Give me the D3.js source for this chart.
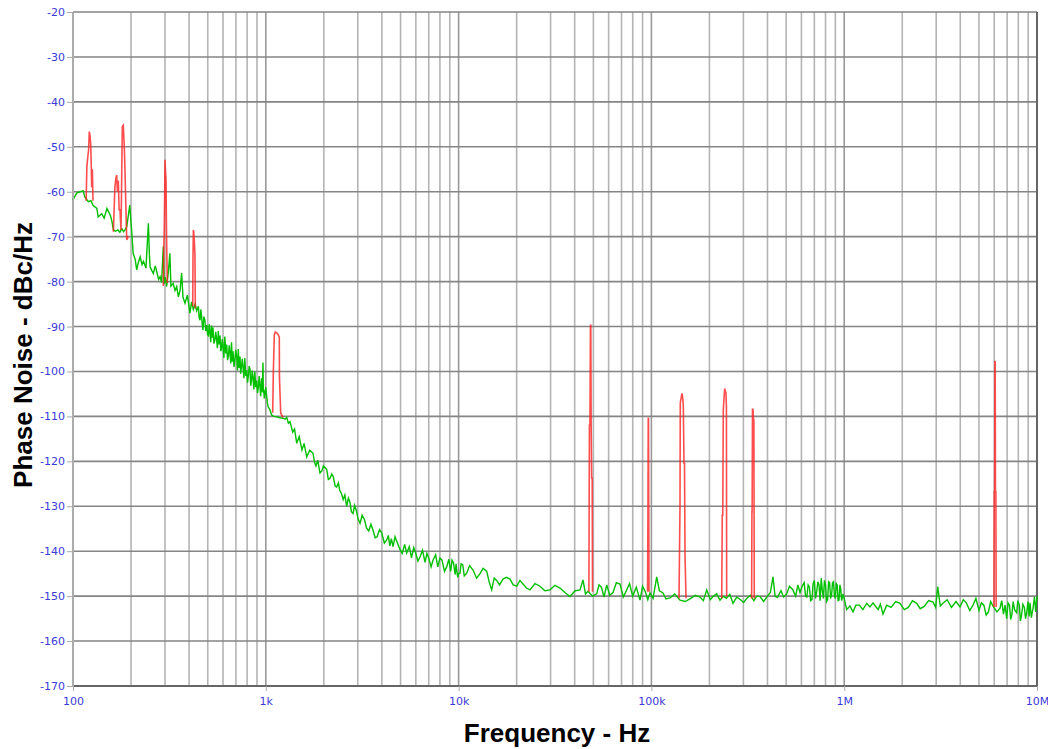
<!DOCTYPE html>
<html>
<head>
<meta charset="utf-8">
<script src="https://cdn.jsdelivr.net/npm/d3@7"></script>
<style>
  body { margin: 0; background: #fff; }
  .tick text { font-family: "DejaVu Sans", Verdana, sans-serif; font-size: 11px; fill: #3a3ad8; }
  .tick line { stroke: #aaa; }
  .title { font-family: "Liberation Sans", Arial, sans-serif; font-weight: bold; fill: #000; }
</style>
</head>
<body>
<div id="chart"></div>
<script>
//Width and height
var w = 1048;
var h = 749;
var margin = {left: 73, right: 11, top: 12, bottom: 63};

//Axis values
var xDecades = [100, 1e3, 1e4, 1e5, 1e6, 1e7];
var xLabels = ["100", "1k", "10k", "100k", "1M", "10M"];
var yTicks = [-20, -30, -40, -50, -60, -70, -80, -90, -100, -110, -120, -130, -140, -150, -160, -170];

//Measured noise floor (green), [Hz, dBc/Hz]
var noise = [
  [100,-61.8],[104.5,-60.3],[108.7,-60.0],[113,-59.8],[115,-61.1],[120,-62.2],[124,-62.0],[127,-63.0],
  [133,-63.7],[135,-65.6],[141,-64.9],[145,-65.9],[150,-63.7],[156,-65.2],[159,-66.5],[162,-68.5],
  [166,-68.8],[171,-68.5],[175,-69.0],[179,-68.2],[183,-68.9],[186,-68.5],[190,-67.8],[197,-63.0],
  [202,-69.3],[205,-73.7],[210,-75.0],[214,-77.4],[218,-75.8],[223,-74.5],[228,-76.2],[232,-75.5],
  [239,-77.0],[246,-67.0],[249,-74.0],[251,-76.7],[256,-77.5],[261,-78.2],[267,-76.5],[272,-77.8],
  [278,-79.5],[283,-78.9],[288,-80.2],[294,-72.2],[297,-80.5],[301,-79.0],[306,-81.1],[312,-78.0],
  [318,-73.7],[322,-81.0],[331,-80.4],[338,-82.0],[345,-81.1],[352,-83.4],[359,-82.0],[366,-78.1],
  [372,-83.5],[381,-84.8],[392,-83.0],[404,-87.0],[412,-84.5],[421,-86.2],[430,-85.0],[438,-86.5],
  [447,-85.5],[451,-88.0],[456,-88.6],[460,-86.2],[464,-87.5],[468,-89.5],[472,-90.8],[477,-87.8],
  [483,-88.5],[488,-91.0],[494,-89.7],[499,-91.8],[504,-92.0],[509,-89.5],[514,-91.5],[518,-93.5],
  [523,-89.8],[528,-92.5],[532,-90.2],[538,-93.8],[544,-93.0],[550,-91.2],[556,-93.0],[561,-94.8],
  [567,-91.0],[573,-94.0],[579,-92.0],[584,-95.5],[589,-94.8],[595,-92.8],[600,-94.5],[606,-97.0],
  [613,-92.2],[620,-96.0],[627,-94.0],[633,-97.5],[640,-96.5],[646,-94.2],[652,-95.9],[658,-98.2],
  [664,-93.5],[670,-97.8],[676,-95.5],[684,-99.0],[691,-97.5],[698,-95.2],[706,-96.7],[713,-99.8],
  [720,-95.0],[727,-99.2],[735,-96.7],[741,-100.5],[748,-99.0],[755,-97.2],[762,-99.0],[770,-101.5],
  [778,-97.0],[787,-101.0],[796,-99.7],[804,-102.5],[812,-101.0],[820,-98.8],[828,-99.5],[835,-103.2],
  [843,-102.0],[850,-99.8],[858,-101.2],[867,-104.0],[877,-100.0],[887,-103.5],[897,-102.0],[906,-104.8],
  [915,-103.5],[924,-101.0],[933,-103.4],[941,-105.5],[950,-101.5],[958,-104.5],[967,-98.0],[971,-104.8],
  [975,-104.0],[982,-106.0],[990,-105.0],[1000,-103.5],[1011,-105.6],[1020,-107.0],[1027,-107.8],[1050,-108.5],
  [1073,-109.7],[1100,-110.0],[1139,-110.1],[1180,-110.3],[1228,-110.4],[1260,-110.6],[1284,-110.2],[1310,-111.5],
  [1335,-111.2],[1380,-113.5],[1410,-112.8],[1447,-116.0],[1490,-114.5],[1540,-117.5],[1580,-116.0],[1630,-119.0],
  [1690,-117.5],[1757,-118.2],[1790,-120.2],[1820,-121.0],[1860,-119.8],[1910,-122.6],[1950,-122.2],[1990,-121.0],
  [2070,-121.8],[2110,-124.0],[2150,-123.8],[2200,-122.8],[2240,-123.5],[2290,-125.5],[2332,-125.7],[2380,-124.8],
  [2420,-126.5],[2470,-127.2],[2520,-128.5],[2570,-127.5],[2628,-130.0],[2680,-128.2],[2730,-129.0],[2780,-131.2],
  [2834,-131.6],[2890,-129.8],[2950,-131.0],[3010,-132.8],[3081,-133.8],[3160,-132.0],[3250,-133.0],[3330,-134.8],
  [3420,-135.5],[3510,-134.0],[3597,-135.3],[3690,-137.0],[3780,-136.8],[3890,-135.2],[4000,-136.0],[4120,-138.2],
  [4238,-137.5],[4320,-136.5],[4400,-138.8],[4480,-137.2],[4568,-139.0],[4680,-136.8],[4800,-138.0],[4950,-139.5],
  [5100,-140.5],[5250,-138.5],[5379,-140.4],[5550,-139.0],[5700,-141.5],[5850,-139.2],[6000,-140.5],[6150,-142.2],
  [6306,-141.3],[6500,-139.8],[6700,-142.5],[6850,-140.5],[7000,-141.5],[7200,-143.5],[7366,-142.0],[7600,-140.8],
  [7800,-143.5],[8000,-141.5],[8200,-142.0],[8450,-144.5],[8675,-143.5],[8900,-141.8],[9100,-144.5],[9250,-142.0],
  [9400,-142.5],[9600,-145.2],[9700,-142.8],[9775,-144.2],[9900,-145.8],[10000,-145.0],[10170,-144.9],[10300,-142.8],
  [10500,-143.0],[10700,-145.5],[11020,-144.9],[11400,-143.2],[11880,-144.2],[12400,-146.0],[12910,-145.0],[13400,-143.8],
  [13990,-144.5],[14400,-146.8],[14850,-148.6],[15300,-146.0],[15760,-146.5],[16300,-147.5],[16990,-146.2],[17700,-145.8],
  [18480,-146.2],[19200,-147.5],[20010,-147.8],[20800,-146.5],[21580,-147.3],[22500,-148.2],[23460,-148.6],[24900,-147.2],
  [26440,-147.8],[28000,-148.8],[29800,-148.6],[31600,-147.6],[33570,-148.2],[35600,-149.2],[37830,-150.1],[40200,-148.8],
  [42640,-148.6],[44190,-146.4],[45500,-149.5],[46910,-148.9],[49500,-150.0],[52030,-149.5],[53500,-147.5],[55000,-148.0],
  [56800,-150.2],[58650,-147.5],[60800,-149.8],[63230,-149.2],[65800,-147.0],[68730,-147.3],[71500,-150.2],[74470,-148.6],
  [77000,-147.2],[80000,-150.0],[83500,-148.0],[87290,-150.9],[90000,-147.8],[93000,-149.0],[95800,-150.8],[98330,-149.3],
  [102000,-150.5],[106540,-145.7],[110000,-148.8],[114850,-149.3],[119000,-150.6],[124900,-150.4],[132000,-149.5],[140700,-150.9],
  [150000,-151.2],[160000,-150.5],[169000,-149.8],[178700,-150.2],[186000,-151.0],[193600,-148.6],[202000,-150.8],[210000,-150.0],
  [218000,-149.5],[226900,-150.9],[236000,-150.0],[245000,-150.5],[255000,-149.6],[265000,-151.6],[277000,-150.2],[290000,-150.8],
  [301000,-151.4],[312200,-150.5],[326000,-149.8],[340000,-151.0],[352000,-150.0],[365900,-150.1],[382000,-151.2],[400000,-150.0],
  [414000,-149.2],[427300,-145.7],[438000,-150.0],[450000,-150.3],[470000,-148.8],[485000,-150.2],[503200,-149.5],[520000,-147.8],
  [540000,-148.5],[560000,-150.0],[575000,-147.5],[589900,-149.2],[605000,-147.8],[620000,-147.0],[630000,-150.0],[640000,-150.2],
  [650000,-147.5],[660000,-148.0],[670000,-151.0],[680000,-150.8],[690000,-147.2],[700000,-146.5],[710000,-150.5],[720100,-149.0],
  [730000,-146.8],[740000,-147.5],[750000,-151.0],[760000,-146.0],[770000,-148.8],[780000,-150.5],[790000,-146.5],[800000,-147.5],
  [810000,-151.2],[820000,-150.8],[830000,-146.8],[840000,-147.0],[850000,-150.5],[860000,-149.8],[870000,-147.0],[880000,-146.8],
  [890000,-150.0],[900000,-150.5],[910000,-147.2],[920000,-147.5],[930000,-151.0],[940000,-150.9],[950000,-147.5],[960000,-148.5],
  [970000,-151.0],[985800,-149.5],[1000000,-150.5],[1030000,-153.0],[1070000,-152.2],[1111000,-153.5],[1150000,-152.0],[1200000,-152.0],
  [1250000,-153.0],[1309000,-151.6],[1360000,-152.4],[1411000,-151.5],[1450000,-152.2],[1500000,-153.0],[1540000,-151.8],[1590000,-154.0],
  [1660000,-152.0],[1750000,-152.5],[1850000,-151.2],[1947000,-151.6],[2050000,-153.0],[2150000,-152.5],[2260000,-151.0],[2377000,-151.6],
  [2480000,-152.8],[2600000,-152.3],[2740000,-151.0],[2888000,-151.3],[2980000,-152.5],[3055000,-147.9],[3150000,-152.2],[3254000,-151.6],
  [3420000,-150.8],[3600000,-152.5],[3800000,-151.2],[3987000,-152.4],[4150000,-150.8],[4300000,-151.5],[4480000,-153.2],[4656000,-152.0],
  [4820000,-150.5],[5000000,-153.2],[5150000,-151.5],[5300000,-152.0],[5450000,-154.2],[5600000,-153.5],[5750000,-151.2],[5914000,-152.2],
  [6200000,-153.5],[6430000,-152.7],[6560000,-151.0],[6700000,-154.0],[6830000,-152.0],[6964000,-155.0],[7080000,-151.5],[7200000,-152.0],
  [7300000,-155.2],[7400000,-154.2],[7520000,-151.2],[7650000,-153.0],[7848000,-153.7],[7950000,-151.0],[8100000,-152.0],[8200000,-155.5],
  [8300000,-154.5],[8450000,-151.8],[8600000,-152.5],[8720000,-155.0],[8844000,-153.7],[8980000,-151.2],[9100000,-154.5],[9200000,-151.5],
  [9350000,-154.8],[9535000,-152.7],[9700000,-150.2],[9850000,-153.5],[10000000,-150.0]
];

//Spurs (red), one list each, [Hz, dBc/Hz]
var spur120 = [[117,-62],[118,-54.4],[119.5,-52],[120.5,-50.7],[121.5,-46.6],[122.5,-47.5],[123.5,-49.2],[124.5,-55],[125,-59],[126,-55],[127,-62]];
var spur180 = [[162,-68.9],[164,-62],[165,-58.9],[167,-57],[168.5,-56.3],[170,-60],[171.8,-57.5],[173.5,-64],[175.3,-64],[177.4,-68.5],
  [178.5,-60],[180.2,-45.5],[182.3,-45.2],[184.5,-50],[186,-55],[187.6,-61.8],[190,-70.7],[193.5,-70]];
var spur300 = [[294,-81],[296,-72],[297.6,-67.8],[299,-60],[300,-52.9],[301.5,-55],[303.7,-57.4],[305,-66],[306,-71.4],[307,-75],[308.4,-80.3]];
var spur420 = [[418,-85.5],[419,-75],[421,-68.5],[423,-69],[426,-71.1],[429,-74],[431,-86]];
var spur1k1 = [[1086,-109.2],[1094,-100.3],[1107,-91.9],[1120,-91.2],[1139,-91.4],[1160,-91.8],[1175,-92.4],[1177,-101.3],[1195,-109.3],[1230,-110.2]];
var spur48k = [[47400,-149],[47700,-112],[48000,-112],[48300,-89.7],[48500,-89.7],[48700,-112],[49000,-123.7],[49300,-123.7],[49500,-149]];
var spur96k = [[95500,-149],[96000,-130],[96300,-110.4],[96600,-110.4],[96900,-130],[97200,-149]];
var spur145k = [[139100,-150.5],[140700,-130],[141200,-107],[142500,-106],[144100,-104.9],[145500,-106],[146400,-107.8],
  [147600,-120.4],[148500,-120.4],[149400,-141],[151200,-150.5]];
var spur240k = [[231600,-150.5],[233100,-132],[234500,-132],[236000,-108.6],[238000,-106],[240000,-103.8],[242000,-104.5],
  [243700,-104.8],[245000,-108],[245700,-150]];
var spur336k = [[331000,-150.5],[332200,-131.2],[333000,-131.2],[334500,-108.4],[336500,-108.4],[338500,-110.8],[340000,-110.8],[341600,-150.5]];
var spur6M = [[5980000,-152.4],[6000000,-126.8],[6030000,-126.8],[6050000,-97.8],[6070000,-97.8],[6090000,-126.8],[6120000,-126.8],[6140000,-152.4]];
var spurs = [spur120, spur180, spur300, spur420, spur1k1, spur48k, spur96k, spur145k, spur240k, spur336k, spur6M];

//Scales
var xScale = d3.scaleLog()
  .domain([1e2, 1e7])
  .range([margin.left, w - margin.right]);

var yScale = d3.scaleLinear()
  .domain([-170, -20])
  .range([h - margin.bottom, margin.top]);

//Minor frequencies for vertical grid
var minorFreqs = [];
xDecades.slice(0, -1).forEach(function(d){
  for (var k = 2; k <= 9; k++) minorFreqs.push(d * k);
});

var svg = d3.select("#chart")
  .append("svg")
  .attr("width", w)
  .attr("height", h);

//Grid
svg.append("g")
  .selectAll("line")
  .data(minorFreqs)
  .enter()
  .append("line")
  .attr("x1", function(d){ return xScale(d); })
  .attr("x2", function(d){ return xScale(d); })
  .attr("y1", yScale(-20))
  .attr("y2", yScale(-170))
  .attr("stroke", "#b4b4b4")
  .attr("stroke-width", 1.6);

svg.append("g")
  .selectAll("line")
  .data(xDecades)
  .enter()
  .append("line")
  .attr("x1", function(d){ return xScale(d); })
  .attr("x2", function(d){ return xScale(d); })
  .attr("y1", yScale(-20))
  .attr("y2", yScale(-170))
  .attr("stroke", "#999")
  .attr("stroke-width", 1.6);

svg.append("g")
  .selectAll("line")
  .data(yTicks)
  .enter()
  .append("line")
  .attr("x1", xScale(1e2))
  .attr("x2", xScale(1e7))
  .attr("y1", function(d){ return yScale(d); })
  .attr("y2", function(d){ return yScale(d); })
  .attr("stroke", "#858585")
  .attr("stroke-width", 1.6);

//Border
svg.append("line")
  .attr("x1", xScale(1e2)).attr("x2", xScale(1e7))
  .attr("y1", yScale(-170)).attr("y2", yScale(-170))
  .attr("stroke", "#666").attr("stroke-width", 2);
svg.append("line")
  .attr("x1", xScale(1e7)).attr("x2", xScale(1e7))
  .attr("y1", yScale(-20)).attr("y2", yScale(-170))
  .attr("stroke", "#666").attr("stroke-width", 2);

//Traces
var line = d3.line()
  .x(function(d){ return xScale(d[0]); })
  .y(function(d){ return yScale(d[1]); });

svg.append("path")
  .datum(noise)
  .attr("d", line)
  .attr("fill", "none")
  .attr("stroke", "#00c000")
  .attr("stroke-width", 1.4);

svg.append("g")
  .selectAll("path")
  .data(spurs)
  .enter()
  .append("path")
  .attr("d", line)
  .attr("fill", "none")
  .attr("stroke", "#ff2020")
  .attr("stroke-opacity", 0.8)
  .attr("stroke-width", 1.6);

//Axes
var xAxis = d3.axisBottom(xScale)
  .tickValues(xDecades)
  .tickSize(5)
  .tickPadding(6)
  .tickFormat(function(d, i){ return xLabels[i]; });

var yAxis = d3.axisLeft(yScale)
  .tickValues(yTicks)
  .tickSize(6)
  .tickPadding(2)
  .tickFormat(function(d){ return d; });

svg.append("g")
  .attr("transform", "translate(0," + (h - margin.bottom) + ")")
  .call(xAxis)
  .call(function(g){ g.select(".domain").remove(); });

svg.append("g")
  .attr("transform", "translate(" + margin.left + ",0)")
  .call(yAxis)
  .call(function(g){ g.select(".domain").attr("stroke", "#aaa"); });

//Titles
svg.append("text")
  .attr("class", "title")
  .attr("x", 557)
  .attr("y", 742)
  .attr("text-anchor", "middle")
  .style("font-size", "26px")
  .text("Frequency - Hz");

svg.append("text")
  .attr("class", "title")
  .attr("transform", "translate(32,355) rotate(-90)")
  .attr("text-anchor", "middle")
  .style("font-size", "26px")
  .text("Phase Noise - dBc/Hz");
</script>
</body>
</html>
